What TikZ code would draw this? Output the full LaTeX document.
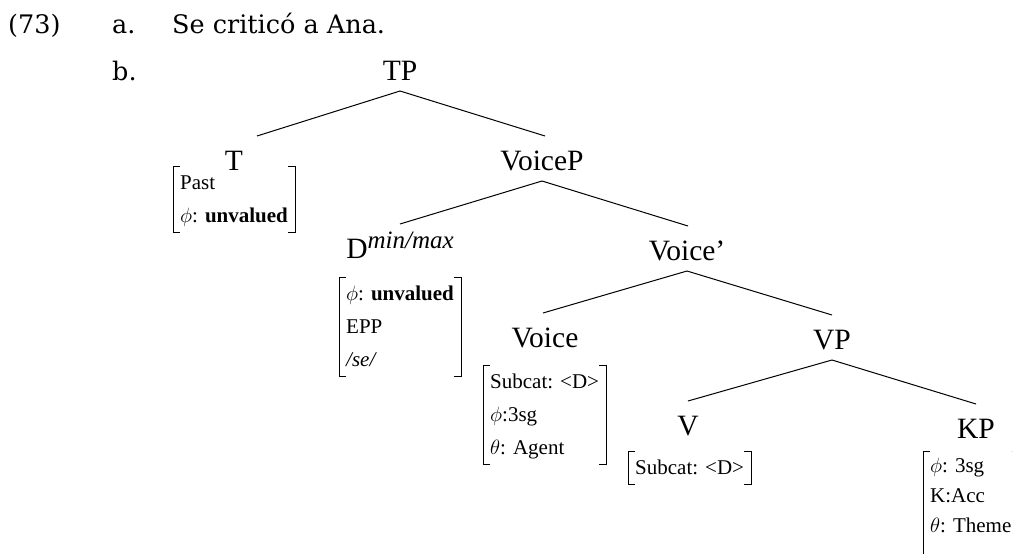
\documentclass[tikz,border=0pt]{standalone}
\usepackage{fontspec}
\setmainfont{Liberation Serif}
\newfontfamily\exfont{DejaVu Serif}
\usetikzlibrary{positioning}

\tikzset{
  cat/.style={inner sep=0pt, anchor=base, font=\fontsize{29.5}{30}\selectfont},
  feat/.style={inner xsep=7pt, inner ysep=0pt, anchor=north west, font=\fontsize{21}{33}\selectfont},
  ex/.style={inner sep=0pt, anchor=base west, font=\exfont\fontsize{25.5}{30}\selectfont},
  bracket/.style={line width=.9pt},
  branch/.style={line width=1pt}
}

\begin{document}
\begin{tikzpicture}[x=1pt,y=-1pt]
\useasboundingbox (0,0) rectangle (1020,554);
\clip (0,0) rectangle (1012,554);
% example number and sentence
\node[ex] (num) at (8,33) {(73)};
\node[ex] (a) at (112,33) {a.};
\node[ex] (sent) at (172,33) {Se criticó a Ana.};
\node[ex] (b) at (112,80) {b.};
% category labels
\node[cat] (TP) at (400,80) {TP};
\node[cat] (T) at (234,170) {T};
\node[cat] (VoiceP) at (542,170) {VoiceP};
\node[cat] (D) at (400,258) {D\raisebox{10pt}{\fontsize{25}{25}\selectfont\itshape min/max}};
\node[cat] (Vbar) at (687,260) {Voice'};
\node[cat] (Voice) at (545,347) {Voice};
\node[cat] (VP) at (832,349) {VP};
\node[cat] (V) at (688,435) {V};
\node[cat] (KP) at (976,438) {KP};
% feature matrices
\node[feat] (Tf) at (173,166) {\begin{tabular}{@{}l@{}}Past\\$\phi$: \textbf{unvalued}\end{tabular}};
\node[feat] (Df) at (339,277) {\begin{tabular}{@{}l@{}}$\phi$: \textbf{unvalued}\\EPP\\\textit{/se/}\end{tabular}};
\node[feat] (Voicef) at (483,365) {\begin{tabular}{@{}l@{}}Subcat: <D>\\$\phi$:3sg\\$\theta$: Agent\end{tabular}};
\node[feat] (Vf) at (628,451) {\begin{tabular}{@{}l@{}}Subcat: <D>\end{tabular}};
\node[feat, font=\fontsize{21}{30}\selectfont] (KPf) at (923,451) {\begin{tabular}{@{}l@{}}$\phi$: 3sg\\K:Acc\\$\theta$: Theme\end{tabular}};
\foreach \m/\ext in {Tf/0,Df/0,Voicef/0,Vf/0,KPf/20} {
  \draw[bracket] ([xshift=7pt]\m.north west) -- (\m.north west) -- ([yshift=-\ext*1pt]\m.south west) -- ++(7,0);
  \draw[bracket] ([xshift=-7pt]\m.north east) -- (\m.north east) -- ([yshift=-\ext*1pt]\m.south east) -- ++(-7,0);
}
% branches
\foreach \up/\dn/\dx in {TP/T/23,TP/VoiceP/3,VoiceP/D/0,VoiceP/Vbar/1,Vbar/Voice/-2,Vbar/VP/0,VP/V/0,VP/KP/0}
  \draw[branch] ([yshift=-11pt]\up.base) -- ([xshift=\dx*1pt,yshift=34pt]\dn.base);
\end{tikzpicture}
\end{document}
